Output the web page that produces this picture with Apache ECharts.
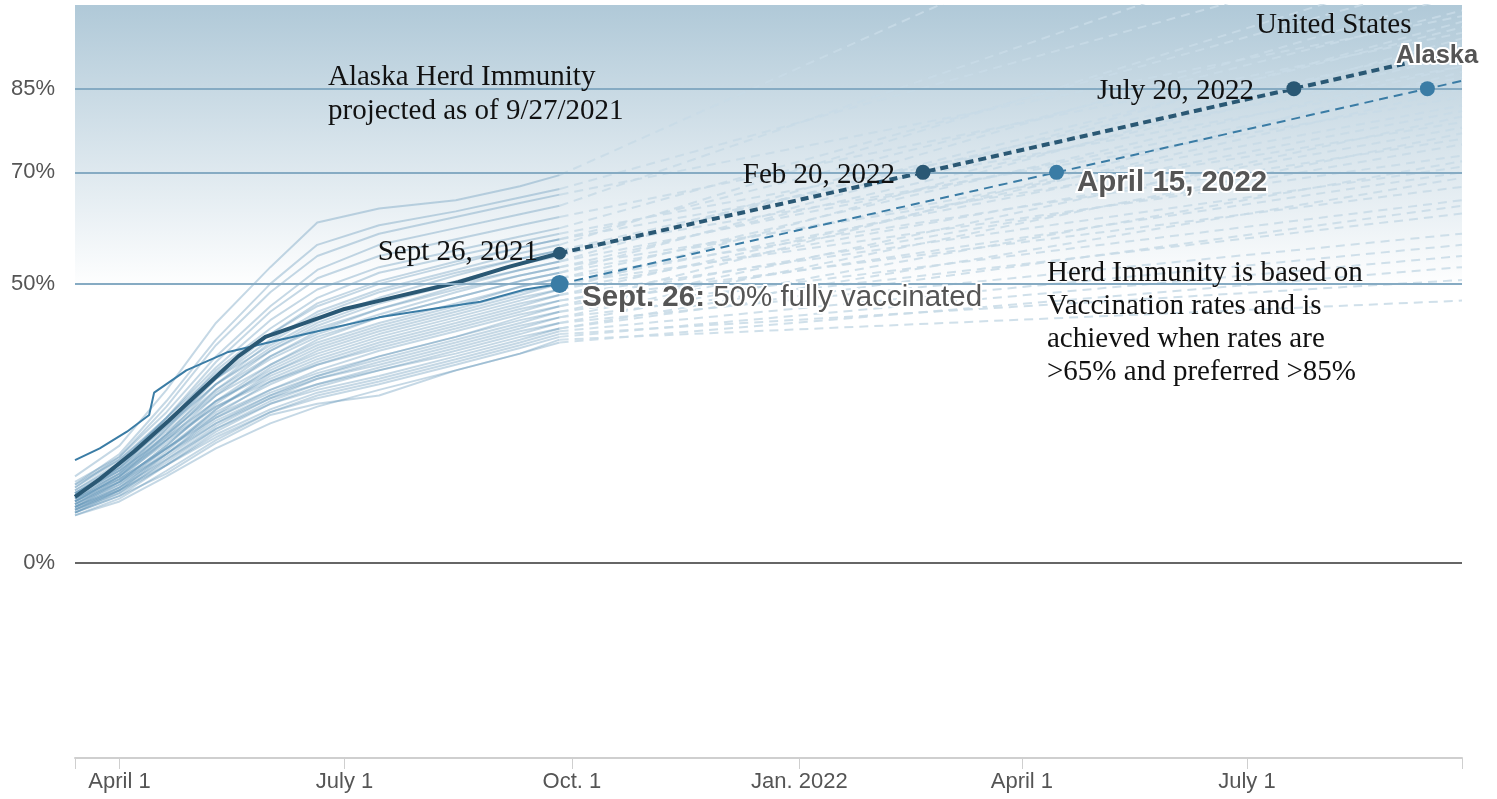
<!DOCTYPE html>
<html>
<head>
<meta charset="utf-8">
<script src="https://cdn.jsdelivr.net/npm/echarts@6/dist/echarts.min.js"></script>
<style>
html,body{margin:0;padding:0;background:#fff;}
#chart{width:1497px;height:799px;}
</style>
</head>
<body>
<div id="chart"></div>
<script>
// ---------- DATA ----------
const xStart = '2021-03-14';
const xEnd = '2022-09-26';
const tickDates = ['2021-03-14','2021-04-01','2021-07-01','2021-10-01','2022-01-01','2022-04-01','2022-07-01','2022-09-26'];
const labelDates = ['2021-04-01','2021-07-01','2021-10-01','2022-01-01','2022-04-01','2022-07-01'];
const labelTexts = ['April 1','July 1','Oct. 1','Jan. 2022','April 1','July 1'];
const yTicks = [0, 50, 70, 85];
const gridLevels = [50, 70, 85];

// United States (fully vaccinated %)
const usDates = ['2021-03-14','2021-03-24','2021-04-07','2021-04-21','2021-05-05','2021-05-19','2021-05-30','2021-06-12','2021-07-01','2021-07-20','2021-08-16','2021-09-05','2021-09-26'];
const usHistory = [11.8, 15, 20, 25.5, 31.3, 37, 40.5, 42.5, 45.5, 47.5, 50.3, 53, 55.5];
// Alaska
const akDates = ['2021-03-14','2021-03-24','2021-04-04','2021-04-13','2021-04-15','2021-04-28','2021-05-15','2021-06-05','2021-06-25','2021-07-15','2021-08-10','2021-08-25','2021-09-12','2021-09-26'];
const akHistory = [18.4, 20.5, 23.5, 26.5, 30.5, 34.5, 37.8, 40, 42, 44, 45.8, 46.8, 49, 50];

const usProjDates = ['2021-09-26','2022-02-20','2022-07-20','2022-09-26'];
const usProjValues = [55.5, 70, 85, 91.8];
const akProjDates = ['2021-09-26','2022-04-15','2022-09-12','2022-09-26'];
const akProjValues = [50, 70, 85, 86.4];

// individual states, sampled at histDates
const histDates = ['2021-03-14','2021-04-01','2021-04-20','2021-05-10','2021-06-01','2021-06-20','2021-07-15','2021-08-15','2021-09-10','2021-09-26'];
const projEndDate = '2022-09-26';
const stateLines = [
  [15.5, 21, 31, 43, 53, 61, 63.5, 65, 67.5, 69.5],
  [14, 19.5, 29, 40, 50, 57, 60.5, 63, 65.5, 67],
  [13.5, 19, 28, 39, 48.5, 55, 59, 62, 64.5, 66],
  [14.5, 19, 27, 37, 46, 52.5, 57, 60, 62.5, 64],
  [12.5, 17.5, 26, 36, 45, 51, 55, 58, 60.5, 62],
  [13, 18, 26, 35, 43.5, 49, 53, 56, 58.5, 60],
  [12, 17, 25, 34.5, 42, 47.5, 52, 55, 57.5, 59],
  [13.5, 18.5, 26, 34, 41, 46, 50, 53.5, 56.5, 58],
  [11.5, 16, 24, 33, 41, 46.5, 50.5, 54, 56.5, 58],
  [12.5, 17, 24.5, 33, 40, 45, 49, 52.5, 55.5, 57],
  [11, 15.5, 23, 32, 39.5, 44.5, 48.5, 52, 54.5, 56],
  [14, 18.5, 25.5, 33, 39, 43.5, 47.5, 51.5, 54.5, 56],
  [12, 16.5, 24, 32, 38.5, 43, 47, 50.5, 53.5, 55],
  [11, 15.5, 22.5, 31, 38, 42.5, 46.5, 50, 52.5, 54],
  [13, 17.5, 24.5, 32, 38, 42, 45.5, 49.5, 52.5, 54],
  [10.5, 15, 22, 30, 37, 41.5, 45.5, 49, 51.5, 53],
  [12.5, 17, 23.5, 31, 37, 41, 44.5, 48.5, 51.5, 53],
  [11.5, 16, 23, 30.5, 36.5, 40.5, 44, 47.5, 50.5, 52],
  [10, 14.5, 21, 29, 35.5, 40, 44, 47.5, 50.5, 52],
  [12, 16.5, 23, 30, 35.5, 39.5, 43, 46.5, 49.5, 51],
  [10.5, 14.5, 21, 28.5, 35, 39, 42.5, 46, 49.5, 51],
  [11, 15.5, 22, 29, 34.5, 38.5, 42, 45.5, 48.5, 50],
  [9.5, 13.5, 20, 27.5, 34, 38, 41.5, 45, 48, 50],
  [12.5, 16.5, 22.5, 29, 34, 37.5, 41, 44.5, 47.5, 49],
  [10, 14, 20.5, 27.5, 33.5, 37, 40.5, 44, 47, 49],
  [11.5, 15.5, 21.5, 28, 33, 36.5, 40, 43.5, 46.5, 48],
  [9, 13, 19.5, 26.5, 32.5, 36, 39.5, 43, 46, 48],
  [10.5, 14.5, 20.5, 27, 32, 35.5, 39, 42.5, 45.5, 47],
  [12, 16, 22, 28, 32.5, 35.5, 38.5, 42, 45, 47],
  [10, 13.5, 19.5, 26, 31, 34.5, 38, 41.5, 44.5, 46],
  [11, 15, 20.5, 26.5, 31, 34, 37, 40.5, 44, 46],
  [9.5, 13, 19, 25, 30, 33.5, 37, 40.5, 43.5, 45],
  [11.5, 15, 20.5, 26, 30.5, 33.5, 36.5, 40, 43, 45],
  [9, 12.5, 18.5, 24.5, 29.5, 33, 36, 39.5, 42.5, 44],
  [10.5, 14, 19.5, 25.5, 30, 33, 35.5, 39, 42, 44],
  [9.5, 13, 18, 24, 29, 32, 35, 38.5, 41.5, 43],
  [11, 14.5, 19.5, 25, 29.5, 32, 34.5, 38, 41, 43],
  [9, 12, 17.5, 23.5, 28.5, 31.5, 34.5, 37.5, 40.5, 42],
  [10, 13.5, 18.5, 24, 28.5, 31, 33.5, 37, 40, 42],
  [9.5, 12.5, 17.5, 23, 27.5, 30.5, 33, 36.5, 39.5, 41.5],
  [8.5, 11.5, 16.5, 22, 27, 30, 32.5, 36, 39, 41],
  [10, 13, 17.5, 22.5, 27, 29.5, 32, 35.5, 38.5, 40.5],
  [9, 12, 16, 21.5, 26.5, 28.5, 30, 34.5, 37.5, 40],
  [8.5, 11, 15.5, 20.5, 25, 28, 31, 34.5, 37.5, 39.5]
];
// projected % on projEndDate, same order as stateLines
const stateProjected = [
  142, 112, 98, 120, 95,
  105, 89, 99, 87, 108, 93, 83.5, 96,
  86, 102, 79, 91, 82, 97, 76, 89, 81, 73, 78, 94, 71, 85,
  75, 67.4, 70, 88, 65, 80, 62.6, 77, 59, 72, 64, 69,
  57, 50.7, 55, 47, 53
];

// ---------- BUILD ----------
const ts = s => { const p = s.split('-').map(Number); return new Date(p[0], p[1]-1, p[2]).getTime(); };
const pairs = (dates, vals) => dates.map((d, i) => [ts(d), vals[i]]);

const SERIF = "'Liberation Serif', 'Times New Roman', serif";
const SANS = "'Liberation Sans', Arial, sans-serif";
const US_COLOR = '#2a5874';
const AK_COLOR = '#3a7ca5';

const series = [];
series.push({
  type: 'line', data: [[ts(xStart), null]], z: 1, silent: true, symbol: 'none',
  markArea: {
    silent: true,
    itemStyle: { color: { type: 'linear', x: 0, y: 0, x2: 0, y2: 1,
      colorStops: [{ offset: 0, color: '#b0c9d8' }, { offset: 1, color: '#ffffff' }] } },
    data: [[{ coord: [ts(xStart), 100] }, { coord: [ts(xEnd), 49] }]]
  },
  markLine: {
    silent: true, symbol: 'none', label: { show: false },
    data: gridLevels.map(v => ({ yAxis: v, lineStyle: { color: '#86abc3', width: 2, type: 'solid' } }))
      .concat([{ yAxis: 0, lineStyle: { color: '#666', width: 2, type: 'solid' } }])
  }
});

const lastHist = histDates[histDates.length - 1];
stateLines.forEach((vals, i) => {
  series.push({
    type: 'line', data: pairs(histDates, vals), symbol: 'none', silent: true, z: 2,
    lineStyle: { color: 'rgba(94,146,182,0.36)', width: 2 }
  });
  series.push({
    type: 'line', data: [[ts(lastHist), vals[vals.length - 1]], [ts(projEndDate), stateProjected[i]]],
    symbol: 'none', silent: true, z: 2,
    lineStyle: { color: 'rgba(200,218,230,0.85)', width: 2, type: [9, 6] }
  });
});

// Alaska
series.push({ type: 'line', data: pairs(akDates, akHistory), symbol: 'none', silent: true, z: 3,
  lineStyle: { color: AK_COLOR, width: 2 } });
series.push({ type: 'line', data: pairs(akProjDates, akProjValues), symbol: 'none', silent: true, z: 3,
  lineStyle: { color: AK_COLOR, width: 2, type: [9, 6] } });
// US
series.push({ type: 'line', data: pairs(usDates, usHistory), symbol: 'none', silent: true, z: 4,
  lineStyle: { color: US_COLOR, width: 4, join: 'round' } });
series.push({ type: 'line', data: pairs(usProjDates, usProjValues), symbol: 'none', silent: true, z: 4,
  lineStyle: { color: US_COLOR, width: 4, type: [8, 5] } });
// dots
series.push({ type: 'scatter', z: 5, silent: true, itemStyle: { color: AK_COLOR, opacity: 1 },
  data: pairs(akProjDates.slice(0, 3), akProjValues.slice(0, 3)),
  symbolSize: (v, p) => p.dataIndex === 0 ? 18 : 15 });
series.push({ type: 'scatter', z: 6, silent: true, itemStyle: { color: US_COLOR, opacity: 1 },
  data: pairs(usProjDates.slice(0, 3), usProjValues.slice(0, 3)),
  symbolSize: (v, p) => p.dataIndex === 0 ? 13 : 15 });

function T(x, y, text, o) {
  return { type: 'text', x: x, y: y, z: 100, silent: true,
    style: Object.assign({ text: text, fill: '#111', fontFamily: SERIF, fontSize: 29,
      align: 'left', verticalAlign: 'middle' }, o || {}) };
}
const halo = { stroke: '#fff', lineWidth: 4, strokeFirst: true };

const graphics = [
  T(328, 77.4, 'Alaska Herd Immunity'),
  T(328, 111.4, 'projected as of 9/27/2021'),
  T(1256, 25.4, 'United States'),
  T(1254, 91.4, 'July 20, 2022', { align: 'right' }),
  T(895, 175.4, 'Feb 20, 2022', { align: 'right' }),
  T(538, 252.4, 'Sept 26, 2021', { align: 'right' }),
  T(1047, 273.4, 'Herd Immunity is based on'),
  T(1047, 306.4, 'Vaccination rates and is'),
  T(1047, 339.4, 'achieved when rates are'),
  T(1047, 372.4, '>65% and preferred >85%'),
  T(1077, 182.6, 'April 15, 2022', Object.assign({ fontFamily: SANS, fontWeight: 'bold', fontSize: 29.5, fill: '#555' }, halo)),
  T(1396, 56, 'Alaska', Object.assign({ fontFamily: SANS, fontWeight: 'bold', fontSize: 25.5, fill: '#555' }, halo)),
  T(582, 297.6, '{b|Sept. 26:} 50% fully vaccinated', Object.assign({ fontFamily: SANS, fontSize: 29.5, fill: '#555',
    rich: { b: { fontFamily: SANS, fontWeight: 'bold', fontSize: 29.5, fill: '#555', stroke: '#fff', lineWidth: 4 } } }, halo))
];

const labelTs = labelDates.map(ts);
const chart = echarts.init(document.getElementById('chart'), null, { renderer: 'canvas' });
chart.setOption({
  animation: false,
  backgroundColor: '#fff',
  grid: { left: 75, right: 35, top: 5, bottom: 41, outerBoundsMode: 'none', containLabel: false },
  xAxis: {
    type: 'value', min: ts(xStart), max: ts(xEnd), scale: true,
    axisLine: { show: true, onZero: false, lineStyle: { color: '#cfcfcf', width: 2 } },
    axisTick: { show: true, customValues: tickDates.map(ts), length: 11, lineStyle: { color: '#cfcfcf', width: 1 } },
    axisLabel: { customValues: labelTs, fontSize: 22, color: '#555', fontFamily: SANS, margin: 13,
      formatter: v => { const i = labelTs.indexOf(v); return i >= 0 ? labelTexts[i] : ''; } },
    splitLine: { show: false }
  },
  yAxis: {
    type: 'value', min: -35, max: 100,
    axisLine: { show: false }, axisTick: { show: false }, splitLine: { show: false },
    axisLabel: { customValues: yTicks, formatter: '{value}%', fontSize: 22, color: '#555', fontFamily: SANS, margin: 20 }
  },
  series: series,
  graphic: graphics
});
</script>
</body>
</html>
